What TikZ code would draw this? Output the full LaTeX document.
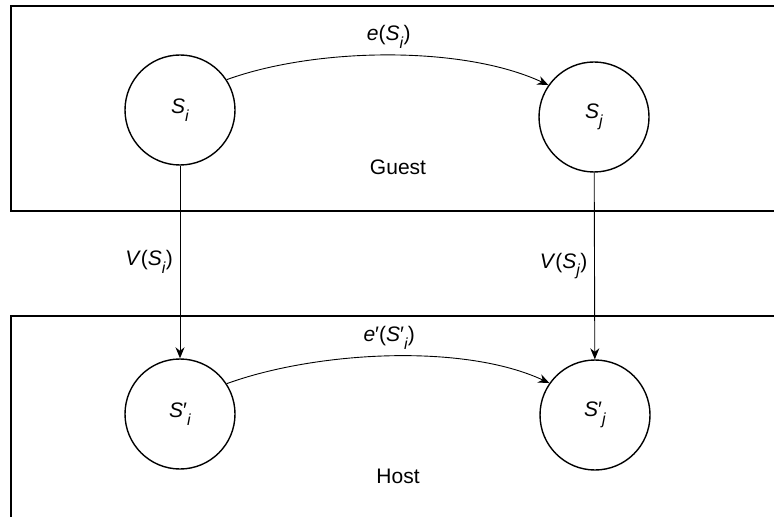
\documentclass[tikz,border=0pt]{standalone}
\usepackage{fontspec}
\setmainfont{Liberation Sans}
\usetikzlibrary{arrows.meta}

\newcommand{\idx}[1]{\raisebox{-0.7ex}{\footnotesize\textit{#1}}}

\begin{document}
\begin{tikzpicture}[x=0.5pt,y=-0.5pt,font=\fontsize{10.5}{12}\selectfont,
    state/.style={circle,draw,line width=0.7pt,minimum size=55pt,inner sep=0pt},
    layer/.style={draw,line width=0.8pt},
    map/.style={-{Stealth[length=5.5pt,width=4.5pt]},line width=0.45pt}]
    \useasboundingbox (0,0) rectangle (774,517);
    \clip (0,0) rectangle (774,517);

    % guest and host layers
    \draw[layer] (11,6) rectangle (800,211);
    \draw[layer] (11,316) rectangle (800,540);
    \node (guest) at (398,167) {Guest};
    \node (host) at (398,476) {Host};

    % states
    \node[state] (Si) at (180,110) {\textit{S}\idx{i}};
    \node[state] (Sj) at (594,117) {\textit{S}\idx{j}};
    \node[state] (Sip) at (180,414) {\textit{S}′\idx{i}};
    \node[state] (Sjp) at (595,415) {\textit{S}′\idx{j}};

    \draw[map] (Si.33) to[out=20,in=155,looseness=0.75]
        node[midway,above] {\textit{e}(\textit{S}\idx{i})} (Sj.145);
    \draw[map] (Sip.33) to[out=20,in=155,looseness=0.75]
        node[midway,above] {\textit{e}′(\textit{S}′\idx{i})} (Sjp.145);

    \draw[map] (Si) -- (Sip) node[midway,left] {\textit{V}(\textit{S}\idx{i})};
    \draw[map] (Sj) -- (Sjp) node[midway,left] {\textit{V}(\textit{S}\idx{j})};
\end{tikzpicture}
\end{document}
